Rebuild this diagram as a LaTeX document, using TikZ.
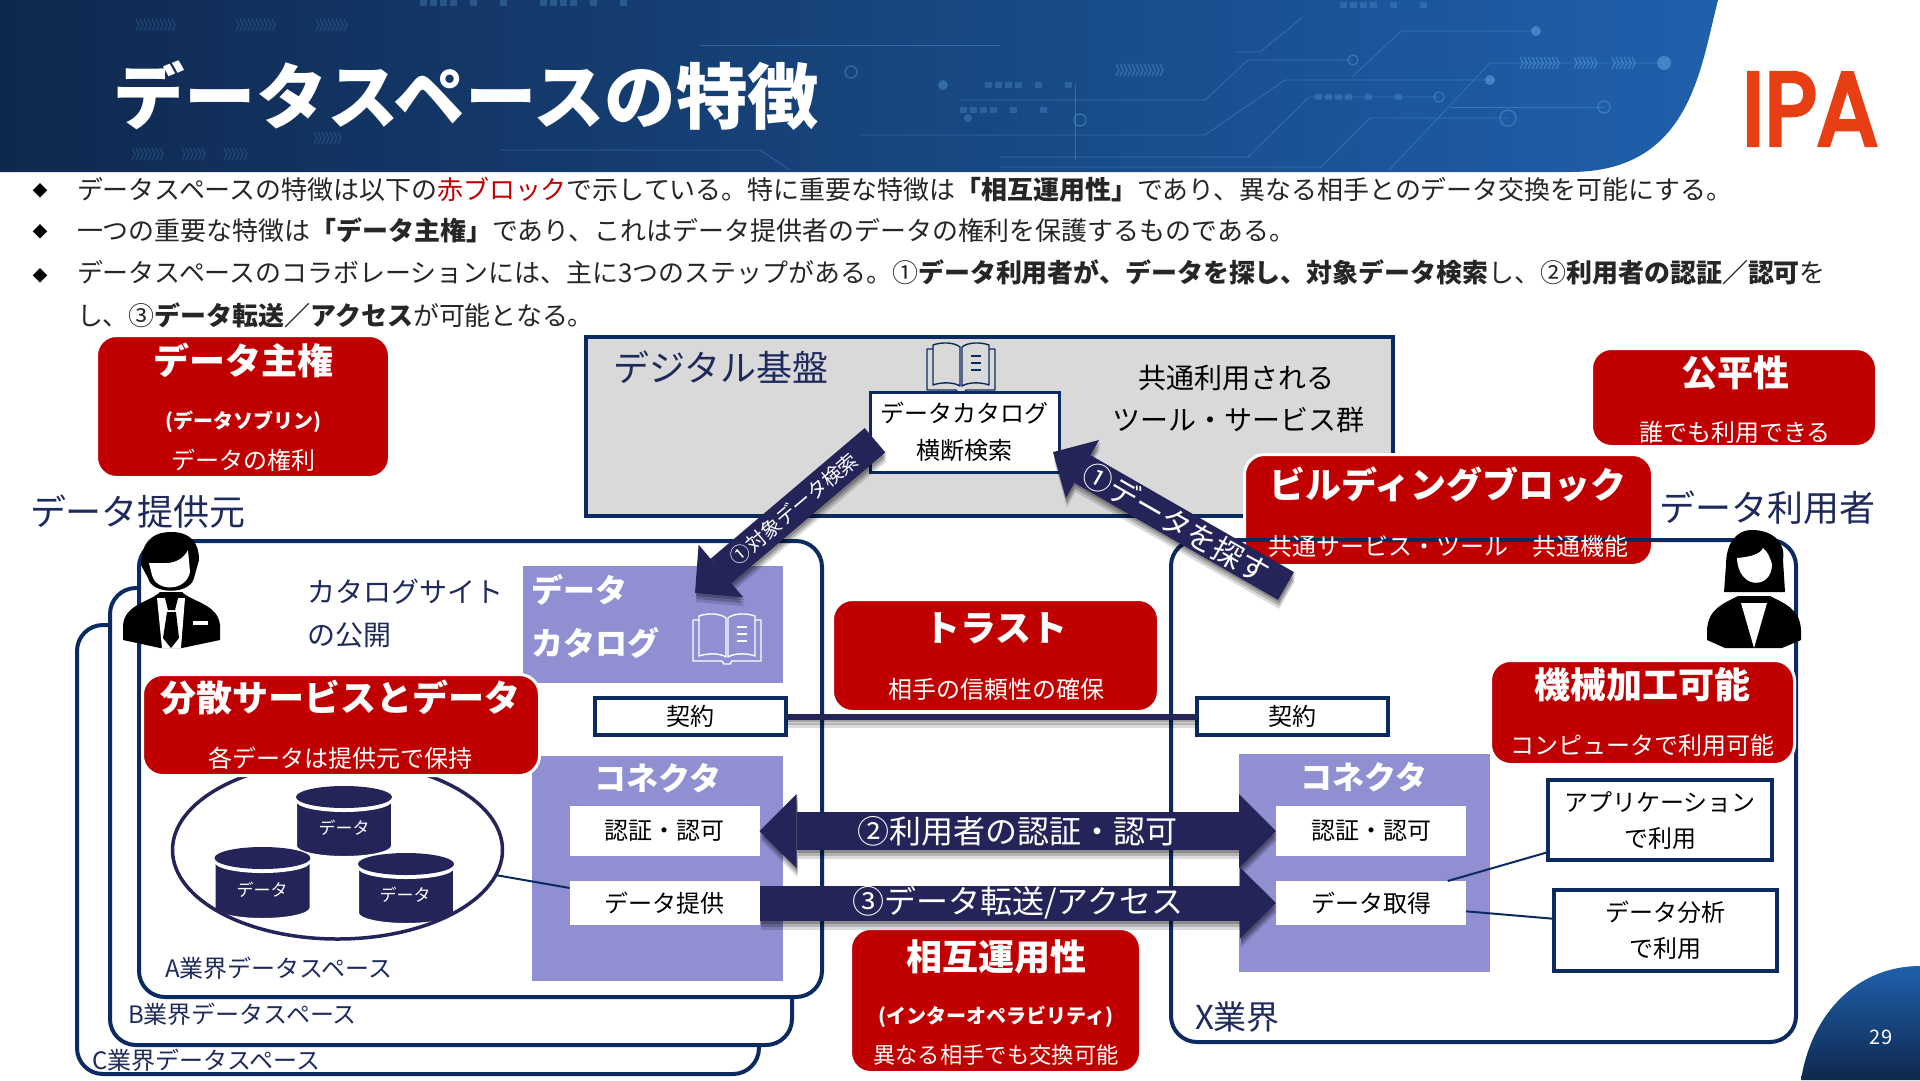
\documentclass[tikz,border=0pt]{standalone}
\usepackage{fontspec}
\setmainfont{Noto Sans CJK JP}
\newfontfamily\logofont[FakeBold=4.5]{Poppins}
\usetikzlibrary{arrows.meta,shapes.geometric}

\def\pxfont#1{\fontsize{#1pt}{#1pt}\selectfont}

\begin{document}
\begin{tikzpicture}[
    x=1pt, y=-1pt,
    every node/.style={inner sep=0pt, outer sep=0pt, font={\pxfont{24}}},
    redbox/.style={rectangle, rounded corners=20pt, fill=keyRed, draw=white, line width=3pt},
    redtitle/.style={text=white, font={\pxfont{36}\bfseries}},
    redparen/.style={text=white, font={\pxfont{20}\bfseries}},
    redsub/.style={text=white, font={\pxfont{24}}},
    spaceframe/.style={rectangle, rounded corners=26pt, draw=frameNavy, line width=4pt},
    spacefill/.style={spaceframe, fill=white},
    navylabel/.style={text=labelNavy},
    purplebox/.style={rectangle, fill=connPurple},
    whitebox/.style={rectangle, fill=white, minimum width=190pt},
    outlinebox/.style={rectangle, fill=white, draw=frameNavy, line width=3.5pt},
    thinlink/.style={draw=frameNavy, line width=2pt},
    blockarrow/.style={draw=arrowNavy},
    circuit/.style={draw=circuitBlue, line width=.8pt, opacity=.4},
    tipTwo/.style={{Triangle[length=37pt,width=74pt,line width=0pt]}-{Triangle[length=37pt,width=74pt,line width=0pt]}},
    tipThree/.style={-{Triangle[length=36pt,width=71pt,line width=0pt]}},
    tipSearch/.style={-{Triangle[length=34pt,width=69pt,line width=0pt]}},
    tipFind/.style={-{Triangle[length=34pt,width=67pt,line width=0pt]}},
]

\definecolor{keyRed}{RGB}{192,0,0}
\definecolor{frameNavy}{RGB}{11,42,95}
\definecolor{labelNavy}{RGB}{31,42,92}
\definecolor{arrowNavy}{RGB}{36,36,89}
\definecolor{connPurple}{RGB}{143,143,210}
\definecolor{bannerDark}{RGB}{15,40,78}
\definecolor{bannerMid}{RGB}{20,62,115}
\definecolor{bannerBlue}{RGB}{31,96,172}
\definecolor{circuitBlue}{RGB}{90,160,220}
\definecolor{bodyGray}{RGB}{38,38,38}
\definecolor{logoRed}{RGB}{232,62,20}

\useasboundingbox (0,0) rectangle (1920,1080);
\fill[white] (0,0) rectangle (1920,1080);

% ============================================================
% BANNER
% ============================================================
\shade[left color=bannerDark, middle color=bannerMid, right color=bannerBlue]
    (0,0) -- (1718,0) .. controls (1700,70) and (1690,172) .. (1570,172) -- (0,172) -- cycle;

% Circuit traces
\draw[circuit] (1236,52) -- (1260,52) -- (1303,17);
\draw[circuit] (1664,63) -- (1490,63) -- (1389,170);
\draw[circuit] (1508,118) -- (1370,118) -- (1321,167) -- (1000,167);
\draw[circuit] (1439,97) -- (1309,97) -- (1248,157) -- (1000,157);
\draw[circuit] (1490,80) -- (1285,80) -- (1205,135) -- (860,135);
\draw[circuit] (1353,60) -- (1248,60) -- (1205,100) -- (960,100);
\draw[circuit] (1536,31) -- (1401,31) -- (1352,77);
\draw[circuit] (1604,107) -- (1450,107);
\draw[circuit] (1075,85) -- (1075,160);
\draw[circuit] (700,45) -- (1000,45);
\draw[circuit] (500,150) -- (760,150) -- (790,170);
\foreach \cx/\cy/\cr in {1508/118/8,1439/97/5,1353/60/5,1604/107/6,851/72/6,1080/120/6} {
    \draw[circuit, line width=1.5pt] (\cx,\cy) circle (\cr pt);
}
\foreach \cx/\cy/\cr/\cop in {1664/63/7/.6,1490/80/5/.6,1536/31/5/.6,943/85/5/.4,968/118/4/.35} {
    \fill[circuitBlue, opacity=\cop] (\cx,\cy) circle (\cr pt);
}
% Chevrons
\foreach \sx/\sy/\num/\cop in {132/25/10/.2,232/25/10/.2,312/25/8/.2,310/138/7/.2,128/154/8/.2,178/154/6/.2,220/154/6/.2,1112/70/12/.4,1516/63/10/.5,1570/63/6/.5,1608/63/6/.5} {
    \foreach \k in {1,...,\num} {
        \draw[circuitBlue, line width=1.4pt, opacity=\cop] ({\sx+4*\k},{\sy-6}) -- ({\sx+4*\k+3},\sy) -- ({\sx+4*\k},{\sy+6});
    }
}
% Dash rows
\foreach \sx/\sy in {1315/97,985/85,960/110,1340/5,420/3,540/3} {
    \foreach \k in {0,1,2,3,5,8} {
        \fill[circuitBlue, opacity=.3] ({\sx+10*\k},{\sy-3}) rectangle ({\sx+10*\k+7},{\sy+3});
    }
}

\node[text=white, anchor=west, font={\pxfont{71.5}\bfseries}] (slideTitle) at (113,96) {データスペースの特徴};

% Logo
\node[text=logoRed, font={\logofont\pxfont{103}}, xscale=.88] (ipaLogo) at (1810,109) {IPA};

% Page corner
\shade[bottom color=bannerDark, top color=bannerBlue]
    (1801,1080) .. controls (1812,1010) and (1860,966) .. (1920,966) -- (1920,1080) -- cycle;
\node[text=white, font={\pxfont{20}}] (pageNo) at (1881,1037) {29};

% ============================================================
% BULLET TEXT
% ============================================================
\foreach \by/\bname in {191/bulletA,232/bulletB,276/bulletC} {
    \node[text=black, font={\pxfont{15}}] (\bname) at (40,\by) {◆};
}
\begin{scope}[every node/.append style={anchor=west, text=bodyGray, font={\pxfont{25.95}}}]
\node (lineOne) at (77,190) {データスペースの特徴は以下の{\color{keyRed}赤ブロック}で示している。特に重要な特徴は{\bfseries 「相互運用性」}であり、異なる相手とのデータ交換を可能にする。};
\node (lineTwo) at (77,230) {一つの重要な特徴は{\bfseries 「データ主権」}であり、これはデータ提供者のデータの権利を保護するものである。};
\node (lineThree) at (77,272) {データスペースのコラボレーションには、主に3つのステップがある。①{\bfseries データ利用者が、データを探し、対象データ検索}し、②{\bfseries 利用者の認証／認可}を};
\node (lineFour) at (77,315) {し、③{\bfseries データ転送／アクセス}が可能となる。};
\end{scope}

% ============================================================
% DIGITAL PLATFORM
% ============================================================
\node[rectangle, fill=black!15, draw=frameNavy, line width=4pt, minimum width=807pt, minimum height=179pt] (platform) at (989.5,426.5) {};
\node[navylabel, font={\pxfont{36}}] (platformLabel) at (721,367) {デジタル基盤};
\node[font={\pxfont{28}}] (sharedA) at (1236,378) {共通利用される};
\node[font={\pxfont{28}}] (sharedB) at (1238,420) {ツール・サービス群};

\node[outlinebox, line width=3pt, minimum width=189pt, minimum height=80pt] (catalogSearch) at (964.5,432) {};
\node (catalogSearchA) at (964.5,413) {データカタログ};
\node (catalogSearchB) at (964.5,450) {横断検索};

% ============================================================
% TOP RED BLOCKS
% ============================================================
\node[redbox, minimum width=293pt, minimum height=142pt] (sovereign) at (243,406.5) {};
\node[redtitle] (sovereignTitle) at (243,360) {データ主権};
\node[redparen] (sovereignParen) at (243,422) {(データソブリン)};
\node[redsub] (sovereignSub) at (243,460) {データの権利};

\node[redbox, minimum width=285pt, minimum height=98pt] (fairness) at (1734,397.5) {};
\node[redtitle] (fairnessTitle) at (1735,373) {公平性};
\node[redsub] (fairnessSub) at (1735,432) {誰でも利用できる};

\node[redbox, minimum width=408pt, minimum height=111pt] (building) at (1448.5,510) {};
\node[redtitle] (buildingTitle) at (1448,485) {ビルディングブロック};

% ============================================================
% SPACE FRAMES
% ============================================================
\node[spacefill, minimum width=682pt, minimum height=449pt] (sectorC) at (418,849.5) {};
\node[spacefill, minimum width=682pt, minimum height=457pt] (sectorB) at (451,816.5) {};
\node[spacefill, minimum width=683pt, minimum height=456pt] (sectorA) at (480.5,769) {};
\node[spaceframe, minimum width=625pt, minimum height=502pt] (sectorX) at (1483.5,791) {};

\node[redsub] (buildingSub) at (1448,546) {共通サービス・ツール　共通機能};

\node[navylabel, anchor=west] (labelA) at (165,968) {A業界データスペース};
\node[navylabel, anchor=west] (labelB) at (128,1014) {B業界データスペース};
\node[navylabel, anchor=west] (labelC) at (92,1060) {C業界データスペース};
\node[navylabel, anchor=west, font={\pxfont{33}}] (labelX) at (1195,1017) {X業界};

\node[navylabel, font={\pxfont{36}}] (providerLabel) at (138,512) {データ提供元};
\node[navylabel, font={\pxfont{36}}] (consumerLabel) at (1767,508) {データ利用者};

\node[navylabel, anchor=west, font={\pxfont{28}}] (siteA) at (307,592) {カタログサイト};
\node[navylabel, anchor=west, font={\pxfont{28}}] (siteB) at (307,635) {の公開};

% ============================================================
% DATA CATALOG (PROVIDER SIDE)
% ============================================================
\node[purplebox, minimum width=260pt, minimum height=117pt] (dataCatalog) at (653,624.5) {};
\node[text=white, anchor=west, font={\pxfont{32}\bfseries}] (dataCatalogA) at (531,590) {データ};
\node[text=white, anchor=west, font={\pxfont{32}\bfseries}] (dataCatalogB) at (531,643) {カタログ};

% Book icons
\foreach \bx/\by/\bcol in {692/613/white,926/342/frameNavy} {
\begin{scope}[shift={(\bx,\by)}, draw=\bcol, line width=1.4pt, line join=round]
    \draw (7,3) .. controls (15,0) and (28,0) .. (34,5) -- (34,44) .. controls (28,40) and (15,40) .. (7,43) -- cycle;
    \draw (36,5) .. controls (42,0) and (55,0) .. (63,3) -- (63,43) .. controls (55,40) and (42,40) .. (36,44) -- cycle;
    \draw (7,7) -- (1,7) -- (1,48) -- (30,48) -- (32,51) -- (38,51) -- (40,48) -- (69,48) -- (69,7) -- (63,7);
    \draw (45,14) -- (55,14);
    \draw (45,21) -- (55,21);
    \draw (45,28) -- (55,28);
\end{scope}
}

% ============================================================
% CONNECTORS
% ============================================================
\node[purplebox, minimum width=251pt, minimum height=225pt] (connectorA) at (657.5,868.5) {};
\node[text=white, font={\pxfont{32}\bfseries}] (connectorATitle) at (658,778) {コネクタ};
\node[whitebox, minimum height=50pt] (authA) at (664.5,831) {認証・認可};
\node[whitebox, minimum height=44pt] (provide) at (664.5,903) {データ提供};

\node[purplebox, minimum width=251pt, minimum height=218pt] (connectorX) at (1364.5,863) {};
\node[text=white, font={\pxfont{32}\bfseries}] (connectorXTitle) at (1364,777) {コネクタ};
\node[whitebox, minimum height=50pt] (authX) at (1371,831) {認証・認可};
\node[whitebox, minimum height=44pt] (acquire) at (1371,903) {データ取得};

\node[outlinebox, minimum width=224pt, minimum height=80pt] (useApp) at (1660,820) {};
\node (useAppA) at (1660,802) {アプリケーション};
\node (useAppB) at (1660,838) {で利用};
\node[outlinebox, minimum width=223pt, minimum height=81pt] (useAnalysis) at (1665.5,930.5) {};
\node (useAnalysisA) at (1665,912) {データ分析};
\node (useAnalysisB) at (1665,948) {で利用};

\draw[thinlink] (acquire.16) -- (useApp.196);
\draw[thinlink] (acquire.-5.4) -- (useAnalysis.174.6);

% ============================================================
% DATA POOL
% ============================================================
\node[ellipse, fill=white, minimum width=330pt, minimum height=178pt] (dataPool) at (337.5,850) {};
\foreach \cx/\cy/\cb/\lx/\ly/\cname in {344/797/846/344/828/dbTop,262.5/858/908/262/890/dbLeft,406/864/913/405/895/dbRight} {
    \path[fill=arrowNavy, draw=white, line width=2pt]
        ({\cx-48},\cy) -- ({\cx-48},\cb)
        arc[start angle=180, end angle=360, x radius=48pt, y radius=11pt]
        -- ({\cx+48},\cy)
        arc[start angle=0, end angle=180, x radius=48pt, y radius=11pt] -- cycle;
    \fill[white] (\cx,{\cy+4}) circle[x radius=48pt, y radius=11pt];
    \fill[arrowNavy] (\cx,\cy) circle[x radius=48pt, y radius=11pt];
    \node[text=white, font={\pxfont{17}}] (\cname) at (\lx,\ly) {データ};
}
\draw[arrowNavy, line width=3.5pt] (dataPool.center) circle[x radius=165pt, y radius=89pt];
\draw[thinlink] (dataPool.-9) -- (provide.171);

% ============================================================
% RED BLOCKS OVER THE FRAMES
% ============================================================
\node[redbox, minimum width=397pt, minimum height=101pt] (distributed) at (341,725) {};
\node[redtitle] (distributedTitle) at (340,698) {分散サービスとデータ};
\node[redsub] (distributedSub) at (340,758) {各データは提供元で保持};

\node[redbox, minimum width=326pt, minimum height=112pt] (trust) at (995.5,655.5) {};
\node[redtitle] (trustTitle) at (996,628) {トラスト};
\node[redsub] (trustSub) at (996,689) {相手の信頼性の確保};

\node[redbox, minimum width=290pt, minimum height=144pt] (interop) at (995.5,1000.5) {};
\node[redtitle] (interopTitle) at (996,957) {相互運用性};
\node[redparen] (interopParen) at (996,1017) {(インターオペラビリティ)};
\node[redsub, font={\pxfont{22.3}}] (interopSub) at (996,1055) {異なる相手でも交換可能};

\node[redbox, minimum width=304pt, minimum height=104pt] (machine) at (1642.5,712.5) {};
\node[redtitle] (machineTitle) at (1642,685) {機械加工可能};
\node[redsub] (machineSub) at (1642,745) {コンピュータで利用可能};

% ============================================================
% CONTRACT AND BLOCK ARROWS
% ============================================================
\node[outlinebox, minimum width=191pt, minimum height=37pt] (contractA) at (690.5,716.5) {契約};
\node[outlinebox, minimum width=191pt, minimum height=37pt] (contractX) at (1292.5,716.5) {契約};

\coordinate (searchTip) at (695,593);
\coordinate (findTail) at (1286,586);

% Soft shadows first
\foreach \sh/\op in {-9/.14,-6/.18,-3/.22} {
    \draw[black, opacity=\op, line width=5pt, transform canvas={xshift=1pt, yshift=\sh pt}] (contractA) -- (contractX);
    \draw[black, opacity=\op, line width=38pt, tipTwo, transform canvas={xshift=1pt, yshift=\sh pt}] (authA.east) -- (authX.west);
    \draw[black, opacity=\op, line width=35pt, tipThree, transform canvas={xshift=1pt, yshift=\sh pt}] (provide.east) -- (acquire.west);
    \draw[black, opacity=\op, line width=32pt, tipSearch, transform canvas={xshift=1pt, yshift=\sh pt}] ([xshift=5pt]catalogSearch.185) -- (searchTip);
    \draw[black, opacity=\op, line width=32pt, tipFind, transform canvas={xshift=1pt, yshift=\sh pt}] (findTail) -- ([xshift=-6pt]catalogSearch.-12);
}

\draw[blockarrow, line width=6pt] (contractA) -- (contractX);
\draw[blockarrow, line width=38pt, tipTwo]
    (authA.east) -- node[midway, text=white, font={\pxfont{32}}] (stepTwo) {②利用者の認証・認可} (authX.west);
\draw[blockarrow, line width=35pt, tipThree]
    (provide.east) -- node[midway, text=white, font={\pxfont{32}}] (stepThree) {③データ転送/アクセス} (acquire.west);
\draw[blockarrow, line width=32pt, tipSearch]
    ([xshift=5pt]catalogSearch.185) -- node[pos=.45, sloped, text=white, font={\pxfont{20}}] (stepSearch) {①対象データ検索} (searchTip);
\draw[blockarrow, line width=32pt, tipFind]
    (findTail) -- node[pos=.47, sloped, text=white, font={\pxfont{30}}] (stepFind) {①データを探す} ([xshift=-6pt]catalogSearch.-12);

% ============================================================
% PEOPLE
% ============================================================
% Provider
\fill[black] (160,592) .. controls (150,602) and (125,604) .. (123,625) -- (123,640)
    -- (160,648) -- (182,648) -- (220,640) -- (220,625) .. controls (218,604) and (192,602) .. (182,592) -- cycle;
\fill[white] (157,598) -- (185,598) -- (181,648) -- (162,648) -- cycle;
\fill[black] (165,598) -- (178,598) -- (175,610) -- (168,610) -- cycle;
\fill[black] (167,612) -- (176,612) -- (179,638) -- (171,648) -- (163,638) -- cycle;
\fill[white] (193,621) rectangle (208,625);
\fill[black] (171,532) .. controls (150,532) and (141,545) .. (141,565)
    -- (148,578) .. controls (152,595) and (190,595) .. (194,578) -- (199,560)
    .. controls (199,542) and (190,532) .. (171,532) -- cycle;
\fill[white] (149,563) -- (166,563) .. controls (176,563) and (184,558) .. (188,550)
    -- (190,572) .. controls (186,592) and (156,592) .. (152,575) -- cycle;

% Consumer
\fill[black] (1752,530) .. controls (1735,530) and (1726,545) .. (1726,565) -- (1724,592)
    -- (1785,592) -- (1783,560) .. controls (1786,545) and (1775,530) .. (1752,530) -- cycle;
\fill[black] (1738,596) .. controls (1725,603) and (1708,608) .. (1707,630) -- (1707,640)
    -- (1725,648) -- (1782,648) -- (1801,640) -- (1801,630) .. controls (1800,608) and (1783,603) .. (1770,596) -- cycle;
\fill[white] (1741,603) -- (1767,603) -- (1754,648) -- cycle;
\fill[white] (1737,558) .. controls (1748,557) and (1760,555) .. (1763,548)
    .. controls (1768,552) and (1770,558) .. (1772,564) .. controls (1772,590) and (1738,590) .. (1737,558) -- cycle;

\end{tikzpicture}
\end{document}
